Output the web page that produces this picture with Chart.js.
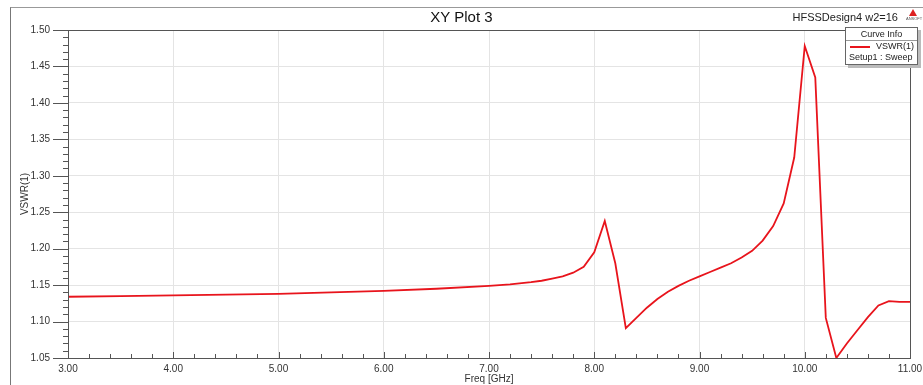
<!DOCTYPE html>
<html>
<head>
<meta charset="utf-8">
<script src="https://cdn.jsdelivr.net/npm/chart.js@4/dist/chart.umd.min.js"></script>
<style>
  html, body { margin:0; padding:0; background:#fff; }
  #wrap { position:relative; width:923px; height:385px; overflow:hidden; font-family:"Liberation Sans", Arial, sans-serif; }
  #frame { position:absolute; left:10px; top:7px; width:920px; height:390px; border-left:1px solid #777; border-top:1px solid #999; }
  #title { position:absolute; left:0; width:923px; top:8px; text-align:center; font-size:15px; color:#111; }
  #design { position:absolute; right:25px; top:11px; font-family:"Liberation Sans Narrow", "Liberation Sans", sans-serif; font-size:11px; color:#222; white-space:nowrap; }
  #logo { position:absolute; left:906px; top:9px; width:14px; text-align:center; }
  #logo .tri { width:0; height:0; margin:0 auto; border-left:4px solid transparent; border-right:4px solid transparent; border-bottom:7px solid #d22; }
  #logo .txt { font-size:4px; color:#555; line-height:5px; }
  #legend { position:absolute; left:845px; top:27px; width:71px; height:36px; background:#fff; border:1px solid #666; box-shadow:3px 3px 0 #bbb; font-size:9px; color:#222; white-space:nowrap; }
  #legend .head { text-align:center; height:12px; line-height:12px; border-bottom:1px solid #999; }
  #legend .row { height:11px; line-height:11px; position:relative; padding-left:3px; }
  #legend .swatch { position:absolute; left:4px; top:5px; width:20px; height:0; border-top:2px solid #e8141c; }
  canvas { position:absolute; left:0; top:0; }
</style>
</head>
<body>
<div id="wrap">
  <canvas id="chart" width="923" height="385"></canvas>
  <div id="frame"></div>
  <div id="title">XY Plot 3</div>
  <div id="design">HFSSDesign4 w2=16</div>
  <div id="logo"><div class="tri"></div><div class="txt">ANSOFT</div></div>
  <div id="legend">
    <div class="head">Curve Info</div>
    <div class="row"><span class="swatch"></span><span style="position:absolute;left:30px;">VSWR(1)</span></div>
    <div class="row">Setup1 : Sweep</div>
  </div>
</div>
<script>
// VSWR sweep
const freqGHz = [3.0, 3.5, 4.0, 4.5, 5.0, 5.5, 6.0, 6.5, 7.0, 7.2, 7.4, 7.5, 7.6, 7.7, 7.8, 7.9,
  8.0, 8.1, 8.2, 8.3, 8.4, 8.5, 8.6, 8.7, 8.8, 8.9, 9.0, 9.1, 9.2, 9.3, 9.4, 9.5, 9.6, 9.7, 9.8, 9.9,
  10.0, 10.1, 10.2, 10.3, 10.4, 10.5, 10.6, 10.7, 10.8, 10.9, 11.0];
const vswr = [1.134, 1.135, 1.136, 1.137, 1.138, 1.140, 1.142, 1.145, 1.149, 1.151, 1.154, 1.156, 1.159, 1.162, 1.167, 1.175,
  1.195, 1.238, 1.180, 1.091, 1.105, 1.119, 1.131, 1.141, 1.149, 1.156, 1.162, 1.168, 1.174, 1.180, 1.188, 1.197, 1.211, 1.231, 1.262, 1.325,
  1.478, 1.435, 1.105, 1.050, 1.070, 1.088, 1.106, 1.122, 1.128, 1.127, 1.127];

const X_MIN = 3, X_MAX = 11, X_STEP = 1, X_MINOR = 0.2;
const Y_MIN = 1.05, Y_MAX = 1.50, Y_STEP = 0.05, Y_MINOR = 0.01;

const points = freqGHz.map((f, i) => ({ x: f, y: vswr[i] }));

// frame around plot + minor ticks like the HFSS axes
const axisDeco = {
  id: 'axisDeco',
  afterDraw(chart){
    const ctx = chart.ctx, a = chart.chartArea;
    const xs = chart.scales.x, ys = chart.scales.y;
    ctx.save();
    ctx.strokeStyle = '#555';
    ctx.lineWidth = 1;
    ctx.strokeRect(Math.round(a.left) + 0.5, Math.round(a.top) + 0.5, Math.round(a.right - a.left), Math.round(a.bottom - a.top));
    ctx.beginPath();
    const nY = Math.round((Y_MAX - Y_MIN) / Y_MINOR);
    for (let i = 0; i <= nY; i++) {
      const y = Math.round(ys.getPixelForValue(Y_MIN + i * Y_MINOR)) + 0.5;
      const major = i % 5 === 0;
      ctx.moveTo(a.left - (major ? 15 : 5), y);
      ctx.lineTo(a.left, y);
    }
    const nX = Math.round((X_MAX - X_MIN) / X_MINOR);
    for (let i = 0; i <= nX; i++) {
      const x = Math.round(xs.getPixelForValue(X_MIN + i * X_MINOR)) + 0.5;
      const major = i % 5 === 0;
      ctx.moveTo(x, a.bottom);
      ctx.lineTo(x, a.bottom - (major ? 6 : 4));
    }
    ctx.stroke();
    ctx.restore();
  }
};

new Chart(document.getElementById('chart'), {
  type: 'line',
  data: { datasets: [{ label: 'VSWR(1)', data: points, borderColor: '#e8141c', borderWidth: 1.8, pointRadius: 0, tension: 0, fill: false }] },
  options: {
    responsive: false,
    animation: false,
    layout: { padding: { left: 10, right: 13, top: 30, bottom: 0 } },
    plugins: { legend: { display: false }, tooltip: { enabled: false } },
    scales: {
      x: {
        type: 'linear', min: X_MIN, max: X_MAX,
        afterFit(s){ s.height = 27; s.paddingRight = 0; s.paddingLeft = 0; },
        ticks: { stepSize: X_STEP, padding: 5, color: '#333', font: { family: 'Liberation Sans', size: 10 }, maxRotation: 0,
          callback: v => Number(v).toFixed(2) },
        grid: { color: '#e4e4e4', drawTicks: false },
        border: { display: false },
        title: { display: true, text: 'Freq [GHz]', color: '#333', font: { family: 'Liberation Sans', size: 10 }, padding: 0 }
      },
      y: {
        min: Y_MIN, max: Y_MAX,
        afterFit(s){ s.width = 58; s.paddingTop = 0; s.paddingBottom = 0; },
        ticks: { stepSize: Y_STEP, padding: 18, color: '#333', font: { family: 'Liberation Sans', size: 10 },
          callback: v => Number(v).toFixed(2) },
        grid: { color: '#e4e4e4', drawTicks: false },
        border: { display: false },
        title: { display: true, text: 'VSWR(1)', color: '#333', font: { family: 'Liberation Sans', size: 10 }, padding: { top: 9, bottom: 0 } }
      }
    }
  },
  plugins: [axisDeco]
});
</script>
</body>
</html>
